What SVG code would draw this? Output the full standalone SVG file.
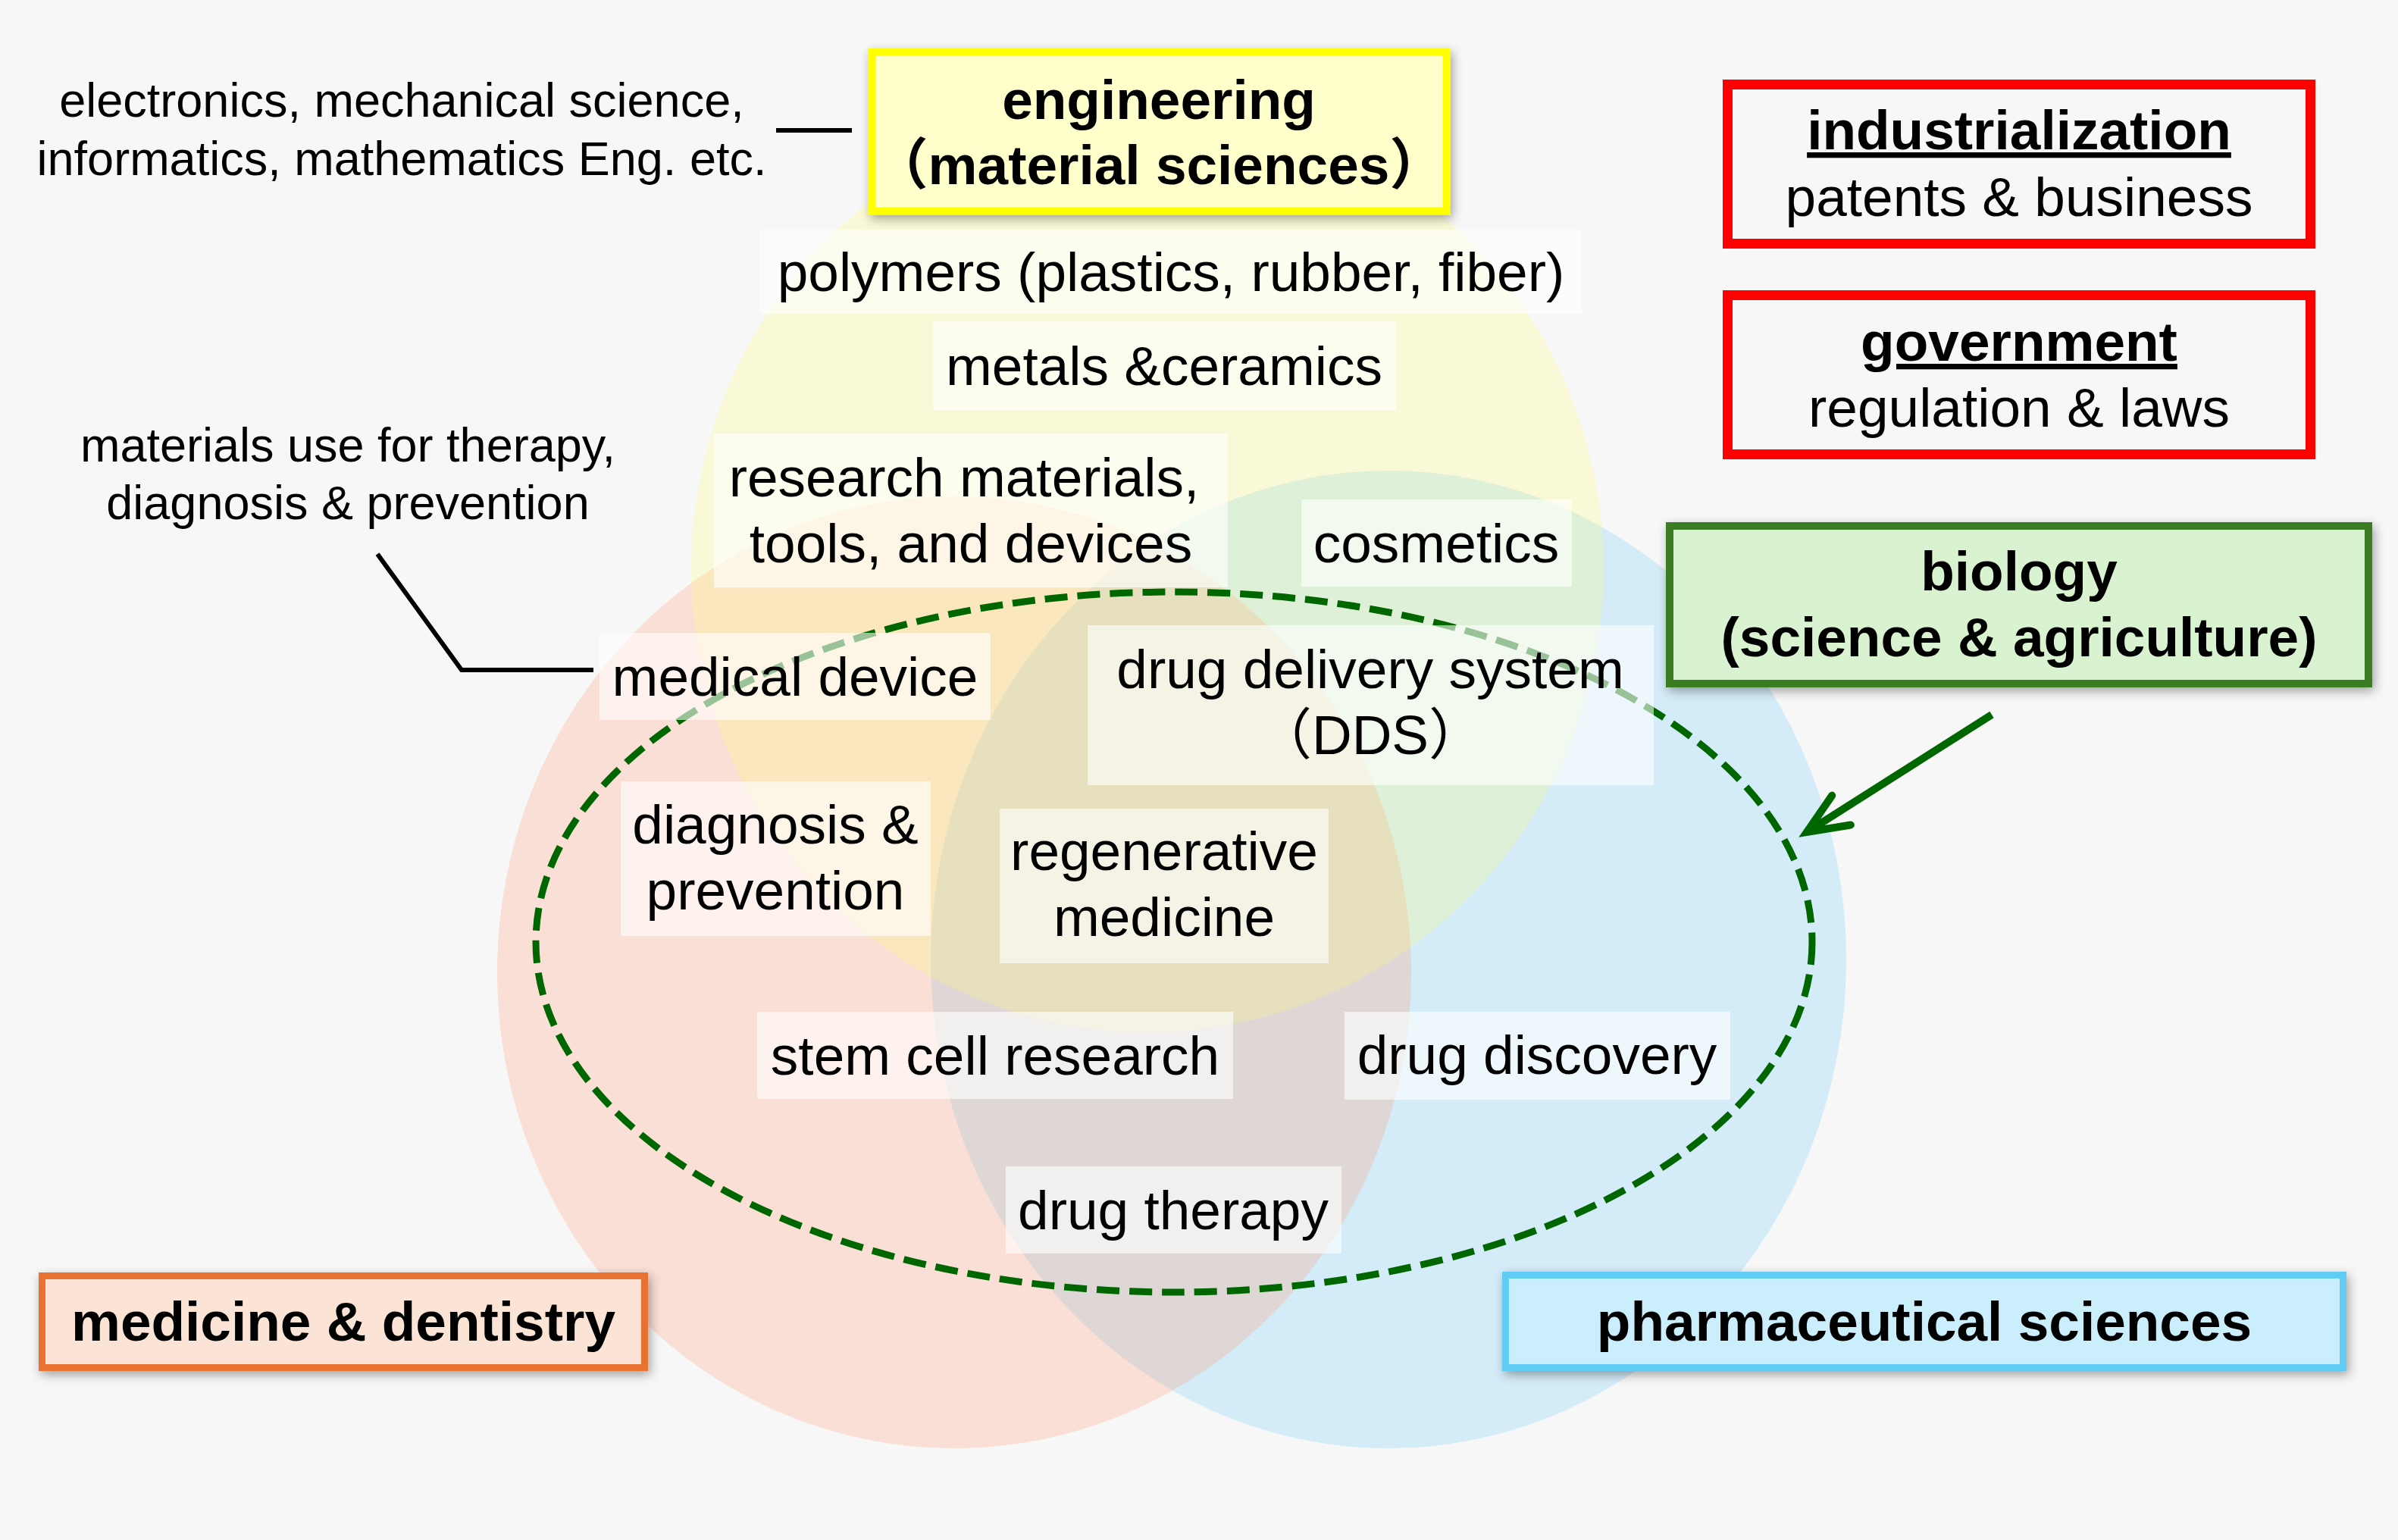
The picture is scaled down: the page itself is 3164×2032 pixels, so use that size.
<svg xmlns="http://www.w3.org/2000/svg" width="3164" height="2032" viewBox="0 0 3164 2032">
<defs>
<style>
.t{font-family:"Liberation Sans",Arial,"Noto Sans CJK JP",sans-serif;fill:#000;text-anchor:middle}
.lab{font-size:73px}
.note{font-size:63px}
.b{font-weight:bold}
.u{text-decoration:underline}
.lbox{fill:#ffffff;fill-opacity:.6}
.circ{fill-opacity:.25}
.conn{fill:none;stroke:#000;stroke-width:6}
</style>
<filter id="sh" x="-10%" y="-20%" width="120%" height="150%">
<feDropShadow dx="3" dy="5" stdDeviation="7" flood-color="#000" flood-opacity="0.35"/>
</filter>
<marker id="arrowhead" viewBox="0 0 12 12" refX="10" refY="6" markerWidth="12" markerHeight="12" markerUnits="strokeWidth" orient="auto" overflow="visible">
<path d="M4.6,3.7 L10,6 L4.6,8.3" fill="none" stroke="#006600" stroke-width="1" stroke-linecap="round" stroke-linejoin="miter"/>
</marker>
</defs>
<rect x="0" y="0" width="3164" height="2032" fill="#f7f7f7"/>

<g id="venn">
<ellipse id="circle-pharma" class="circ" cx="1832" cy="1266" rx="604" ry="645" fill="#6BC7FB"/>
<ellipse id="circle-medicine" class="circ" cx="1259" cy="1283" rx="603" ry="628" fill="#FF976F"/>
<ellipse id="circle-engineering" class="circ" cx="1514" cy="751" rx="602" ry="611" fill="#FFFF77"/>
</g>

<g id="biology-scope">
<ellipse cx="1549" cy="1243" rx="842" ry="462" fill="none" stroke="#006600" stroke-width="9" stroke-dasharray="30 13"/>
</g>

<g id="polymers"><rect class="lbox" x="1003" y="303" width="1084" height="111"/><text class="t lab" x="1545" y="384">polymers (plastics, rubber, fiber)</text></g>
<g id="metals"><rect class="lbox" x="1231" y="424" width="611" height="117"/><text class="t lab" x="1536" y="508">metals &amp;ceramics</text></g>
<g id="research"><rect class="lbox" x="942" y="572" width="678" height="203"/><text class="t lab" x="1272" y="655">research materials,</text><text class="t lab" x="1281" y="742">tools, and devices</text></g>
<g id="cosmetics"><rect class="lbox" x="1717" y="659" width="357" height="115"/><text class="t lab" x="1895" y="742">cosmetics</text></g>
<g id="medical-device"><rect class="lbox" x="791" y="835" width="516" height="115"/><text class="t lab" x="1049" y="918">medical device</text></g>
<g id="dds"><rect class="lbox" x="1435" y="825" width="747" height="211"/><text class="t lab" x="1808" y="908">drug delivery system</text><text class="t lab" x="1808" y="995">（DDS）</text></g>
<g id="diagnosis"><rect class="lbox" x="819" y="1031" width="409" height="204"/><text class="t lab" x="1023" y="1113">diagnosis &amp;</text><text class="t lab" x="1023" y="1200">prevention</text></g>
<g id="regenerative"><rect class="lbox" x="1319" y="1067" width="434" height="204"/><text class="t lab" x="1536" y="1148">regenerative</text><text class="t lab" x="1536" y="1235">medicine</text></g>
<g id="stem-cell"><rect class="lbox" x="999" y="1335" width="628" height="115"/><text class="t lab" x="1313" y="1418">stem cell research</text></g>
<g id="drug-discovery"><rect class="lbox" x="1774" y="1335" width="509" height="116"/><text class="t lab" x="2028" y="1417">drug discovery</text></g>
<g id="drug-therapy"><rect class="lbox" x="1327" y="1539" width="443" height="115"/><text class="t lab" x="1548" y="1622">drug therapy</text></g>

<g id="engineering"><rect x="1150.5" y="68.5" width="758" height="210" fill="#ffffcc" stroke="#ffff00" stroke-width="10" filter="url(#sh)"/><text class="t lab b" x="1529" y="157">engineering</text><text class="t lab b" x="1529" y="243">（material sciences）</text></g>
<g id="industrialization"><rect x="2279.5" y="111.5" width="769" height="210" fill="none" stroke="#ff0000" stroke-width="13"/><text class="t lab b u" x="2664" y="197">industrialization</text><text class="t lab" x="2664" y="285">patents &amp; business</text></g>
<g id="government"><rect x="2279.5" y="389.5" width="769" height="210" fill="none" stroke="#ff0000" stroke-width="13"/><text class="t lab b u" x="2664" y="476">government</text><text class="t lab" x="2664" y="563">regulation &amp; laws</text></g>
<g id="biology"><rect x="2203" y="694" width="922" height="208" fill="#d9f2d0" stroke="#3b7d23" stroke-width="10" filter="url(#sh)"/><text class="t lab b" x="2664" y="779">biology</text><text class="t lab b" x="2664" y="866">(science &amp; agriculture)</text></g>
<g id="medicine"><rect x="55.5" y="1683.5" width="795" height="121" fill="#fbe3d6" stroke="#e97132" stroke-width="9" filter="url(#sh)"/><text class="t lab b" x="453" y="1769">medicine &amp; dentistry</text></g>
<g id="pharmaceutical"><rect x="1986.5" y="1682.5" width="1105" height="122" fill="#caeefb" stroke="#61cbf3" stroke-width="9" filter="url(#sh)"/><text class="t lab b" x="2539" y="1769">pharmaceutical sciences</text></g>

<g id="note-engineering"><text class="t note" x="530" y="154">electronics, mechanical science,</text><text class="t note" x="530" y="231">informatics, mathematics Eng. etc.</text></g>
<g id="note-materials"><text class="t note" x="459" y="609">materials use for therapy,</text><text class="t note" x="459" y="685">diagnosis &amp; prevention</text></g>

<g id="connectors">
<line class="conn" x1="1024" y1="172" x2="1124" y2="172"/>
<polyline class="conn" points="498,731 609,884 783,884"/>
<line x1="2628" y1="943" x2="2384" y2="1098" stroke="#006600" stroke-width="10" marker-end="url(#arrowhead)"/>
</g>
</svg>
